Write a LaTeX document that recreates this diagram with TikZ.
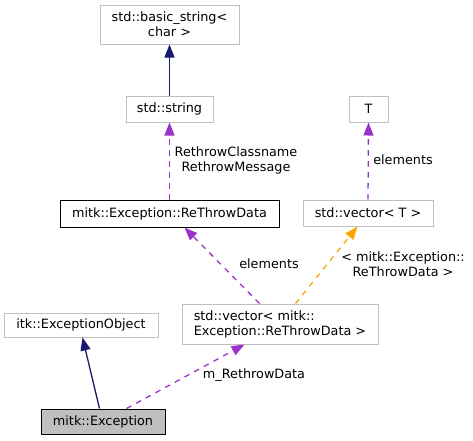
\documentclass[tikz,border=0pt]{standalone}
\usepackage{fontspec}
\setmainfont{DejaVu Sans}
\usetikzlibrary{arrows.meta,calc}
\definecolor{grayb}{HTML}{BFBFBF}
\definecolor{inh}{HTML}{191970}
\definecolor{usec}{HTML}{9A32CD}
\definecolor{tmplc}{HTML}{FFA500}
\begin{document}
\begin{tikzpicture}[x=1pt,y=-1pt,
  box/.style={draw=grayb, fill=white, line width=1pt, inner sep=0pt, align=center,
    font=\fontsize{12.8}{15}\selectfont},
  lbl/.style={font=\fontsize{12.8}{15}\selectfont, inner sep=0pt, align=center},
  tip/.style={-{Triangle[length=13pt,width=10pt]}},
  inhedge/.style={draw=inh, line width=1.3pt, tip},
  useedge/.style={draw=usec, line width=1.3pt, dash pattern=on 5.5pt off 5.5pt, tip},
  tmpledge/.style={draw=tmplc, line width=1.3pt, dash pattern=on 5.5pt off 5.5pt, tip}
]
\useasboundingbox (0,0) rectangle (473,440);
\node[box, minimum width=139pt, minimum height=39pt] (bs) at (169.5,24.5) {std::basic\_string<\\char >};
\node[box, minimum width=87pt, minimum height=26pt] (str) at (169.5,109) {std::string};
\node[box, minimum width=39pt, minimum height=26pt] (T) at (368.5,109) {T};
\node[box, draw=black, minimum width=219pt, minimum height=27pt] (rtd) at (169.5,213.5) {mitk::Exception::ReThrowData};
\node[box, minimum width=130pt, minimum height=26pt] (vt) at (368,213) {std::vector< T >};
\node[box, align=left, minimum width=196pt, minimum height=40pt] (vrtd) at (280,324) {std::vector< mitk::\\Exception::ReThrowData >};
\node[box, minimum width=154pt, minimum height=24pt] (eo) at (81,325) {itk::ExceptionObject};
\node[box, draw=black, fill=grayb, minimum width=124pt, minimum height=25pt] (ex) at (103,421.5) {mitk::Exception};

\draw[inhedge] (str.north) -- (bs.south);
\draw[useedge] (rtd.north) -- (str.south);
\draw[useedge] (vt.north) -- (T.south);
\draw[useedge] ([xshift=78pt]vrtd.north west) -- ([xshift=125pt]rtd.south west);
\draw[tmpledge] ([xshift=114pt]vrtd.north west) -- ([xshift=55pt]vt.south west);
\draw[inhedge] ([xshift=59pt]ex.north west) -- ([xshift=79pt]eo.south west);
\draw[useedge] ([xshift=86pt]ex.north west) -- ([xshift=63pt]vrtd.south west);

\node[lbl] (l1) at (236,160) {RethrowClassname\\RethrowMessage};
\node[lbl] (l2) at (403,160) {elements};
\node[lbl] (l3) at (269,264) {elements};
\node[lbl] (l4) at (403,264.5) {< mitk::Exception::\\ReThrowData >};
\node[lbl] (l5) at (254,375) {m\_RethrowData};
\end{tikzpicture}
\end{document}
